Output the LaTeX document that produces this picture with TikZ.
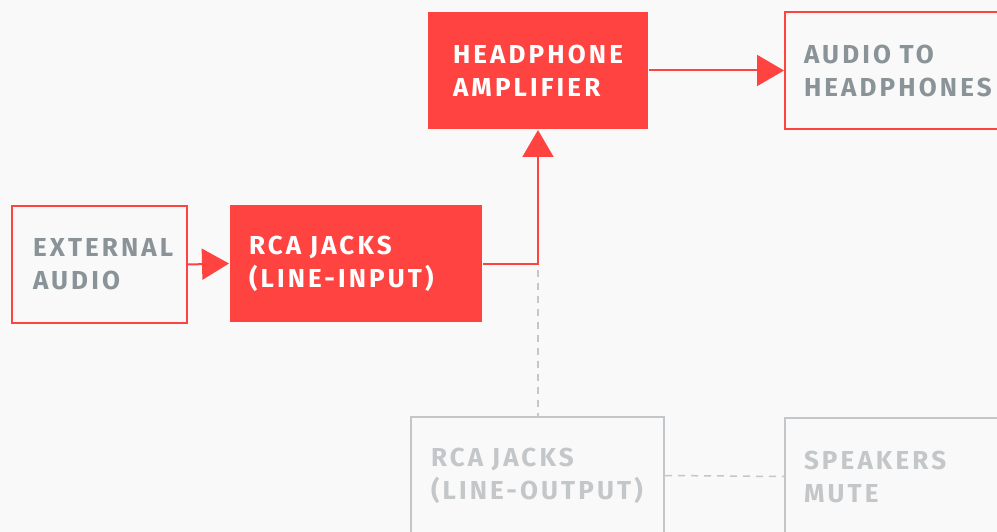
\documentclass[tikz,border=0pt]{standalone}
\usepackage{fontspec}
\newfontfamily\dfont[LetterSpace=12]{Fira Sans}
\usetikzlibrary{arrows.meta,calc}
\definecolor{bgc}{HTML}{F9F9F9}
\definecolor{accred}{HTML}{FF4340}
\definecolor{txtgray}{HTML}{8A9397}
\definecolor{lightgray}{HTML}{C4C7C9}
\begin{document}
\begin{tikzpicture}[x=1pt,y=-1pt,
  box/.style={rectangle, anchor=north west, minimum height=117pt, align=left,
    font=\dfont\bfseries\fontsize{26}{33}\selectfont, line width=2pt, inner ysep=0pt},
  solidbox/.style={box, fill=accred, text=white},
  outbox/.style={box, draw=accred, text=txtgray},
  offbox/.style={box, draw=lightgray, text=lightgray},
  conn/.style={draw=accred, line width=2pt, -{Triangle[length=27pt,width=31pt]}},
  dashline/.style={draw=lightgray, line width=1.5pt, dash pattern=on 7pt off 6pt}]
\useasboundingbox (0,0) rectangle (997,532);
\fill[bgc] (0,0) rectangle (997,532);
\clip (0,0) rectangle (997,532);

\node[solidbox, minimum width=220pt, inner xsep=25pt, text width=170pt] (amp) at (427,11) {HEADPHONE\\AMPLIFIER};
\node[outbox, minimum width=220pt, inner xsep=19pt, text width=182pt] (ath) at (784,11) {AUDIO TO\\HEADPHONES};
\node[outbox, minimum width=175pt, inner xsep=21pt, text width=133pt] (ext) at (11,205) {EXTERNAL\\AUDIO};
\node[solidbox, minimum width=252pt, inner xsep=19pt, text width=214pt] (rcain) at (229,204) {RCA JACKS\\(LINE-INPUT)};
\node[offbox, minimum width=253pt, inner xsep=20pt, text width=213pt] (rcaout) at (410,416) {RCA JACKS\\(LINE-OUTPUT)};
\node[offbox, minimum width=220pt, inner xsep=19pt, text width=182pt] (spk) at (784,417) {SPEAKERS\\MUTE};

\draw[conn] (ext.east) -- (rcain.west);
\draw[conn] (rcain.east) -| (amp.south);
\draw[conn] (amp.east) -- (ath.west);
\coordinate (j) at (rcain.east -| amp.south);
\draw[dashline] ($(j)+(0,6)$) -- (amp.south |- rcaout.north);
\draw[dashline] (rcaout.east) -- (spk.west);
\end{tikzpicture}
\end{document}
